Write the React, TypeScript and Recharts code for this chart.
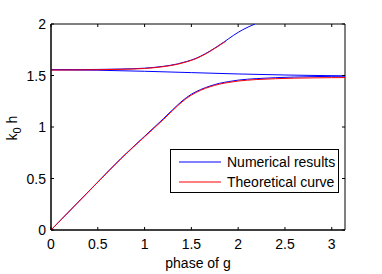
import { LineChart, Line, XAxis, YAxis, Legend, ReferenceArea } from "recharts";

// phase of g (x) and k0h (y)
const phaseUpper = [0, 0.25, 0.5, 0.75, 1.0, 1.2, 1.35, 1.45, 1.55, 1.65, 1.75, 1.85, 1.95, 2.05, 2.18];
const upperNumerical = [1.556, 1.557, 1.559, 1.563, 1.571, 1.589, 1.612, 1.636, 1.667, 1.712, 1.766, 1.826, 1.89, 1.945, 2.0];

const phaseUpperTheory = [0, 0.25, 0.5, 0.75, 1.0, 1.2, 1.35, 1.45, 1.55, 1.65, 1.75, 1.87];
const upperTheoretical = [1.553, 1.554, 1.556, 1.56, 1.568, 1.586, 1.609, 1.633, 1.664, 1.709, 1.763, 1.835];

const phaseMiddle = [0, 0.5, 1.0, 1.5, 2.0, 2.5, Math.PI];
const middleNumerical = [1.556, 1.551, 1.541, 1.528, 1.515, 1.505, 1.496];

const phaseLower = [0, 0.25, 0.5, 0.75, 1.0, 1.1, 1.2, 1.3, 1.4, 1.5, 1.6, 1.7, 1.8, 1.9, 2.0, 2.2, 2.4, 2.6, 2.8, 3.0, Math.PI];
const lowerNumerical = [0, 0.233, 0.466, 0.697, 0.91, 0.995, 1.08, 1.168, 1.252, 1.318, 1.364, 1.398, 1.424, 1.441, 1.455, 1.47, 1.479, 1.485, 1.489, 1.492, 1.494];
const lowerTheoretical = [0, 0.232, 0.464, 0.694, 0.905, 0.988, 1.072, 1.16, 1.244, 1.31, 1.357, 1.391, 1.416, 1.433, 1.446, 1.461, 1.469, 1.474, 1.477, 1.479, 1.48];

const xTicks = [0, 0.5, 1, 1.5, 2, 2.5, 3];
const yTicks = [0, 0.5, 1, 1.5, 2];

const legendItems = [
  { label: "Numerical results", color: "#0000ff" },
  { label: "Theoretical curve", color: "#ff0000" },
];

const zip = (xs: number[], ys: number[]) => xs.map((x, i) => ({ x, y: ys[i] }));

const FONT = "'Liberation Sans', Arial, sans-serif";
const TICK = 3;

const BottomTick = ({ x, y, payload }: any) => (
  <g>
    <line x1={x} x2={x} y1={y} y2={y - TICK} stroke="#000" />
    <text x={x} y={y + 19} textAnchor="middle" fontSize={14} fill="#000" fontFamily={FONT}>
      {payload.value}
    </text>
  </g>
);

const TopTick = ({ x, y }: any) => <line x1={x} x2={x} y1={y} y2={y + TICK} stroke="#000" />;

const LeftTick = ({ x, y, payload }: any) => (
  <g>
    <line x1={x} x2={x + TICK} y1={y} y2={y} stroke="#000" />
    <text x={x - 5} y={y + 5} textAnchor="end" fontSize={14} fill="#000" fontFamily={FONT}>
      {payload.value}
    </text>
  </g>
);

const RightTick = ({ x, y }: any) => <line x1={x} x2={x - TICK} y1={y} y2={y} stroke="#000" />;

const YLabel = ({ viewBox }: any) => {
  const cx = 17;
  const cy = viewBox.y + viewBox.height / 2 + 1;
  return (
    <text
      x={cx}
      y={cy}
      transform={`rotate(-90, ${cx}, ${cy})`}
      textAnchor="middle"
      fontSize={14}
      fill="#000"
      fontFamily={FONT}
    >
      k<tspan fontSize={11} dy={4}>0</tspan>
      <tspan dy={-4}> h</tspan>
    </text>
  );
};

const LegendBox = () => (
  <div
    style={{
      border: "1px solid #000",
      background: "#fff",
      width: 167,
      height: 42,
      fontFamily: FONT,
      fontSize: 14,
      boxSizing: "content-box",
    }}
  >
    {legendItems.map((item, i) => (
      <div key={item.label} style={{ display: "flex", alignItems: "center", height: 20, marginTop: i === 0 ? 2 : 0 }}>
        <svg width={52} height={20} style={{ flex: "none" }}>
          <line x1={8} x2={50} y1={10} y2={10} stroke={item.color} />
        </svg>
        <span style={{ marginLeft: 4, color: "#000", whiteSpace: "nowrap" }}>{item.label}</span>
      </div>
    ))}
  </div>
);

export default function App() {
  return (
    <div style={{ position: "absolute", left: 0, top: 0 }}>
      <LineChart
        width={382}
        height={274}
        margin={{ top: 23, right: 36, bottom: 0, left: 0 }}
        style={{ fontFamily: FONT, background: "#fff" }}
      >
        <XAxis
          dataKey="x"
          type="number"
          domain={[0, Math.PI]}
          ticks={xTicks}
          allowDataOverflow
          height={44}
          tickSize={0}
          tickMargin={0}
          tickLine={false}
          axisLine={{ stroke: "#000" }}
          tick={<BottomTick />}
          interval={0}
          label={{ value: "phase of g", position: "insideBottom", offset: 6, fontSize: 14, fill: "#000", fontFamily: FONT }}
        />
        <XAxis
          xAxisId="top"
          orientation="top"
          dataKey="x"
          type="number"
          domain={[0, Math.PI]}
          ticks={xTicks}
          allowDataOverflow
          height={1}
          tickSize={0}
          tickMargin={0}
          tickLine={false}
          axisLine={false}
          tick={<TopTick />}
          interval={0}
        />
        <YAxis
          type="number"
          domain={[0, 2]}
          ticks={yTicks}
          allowDataOverflow
          width={51}
          tickSize={0}
          tickMargin={0}
          tickLine={false}
          axisLine={{ stroke: "#000" }}
          tick={<LeftTick />}
          interval={0}
          label={<YLabel />}
        />
        <YAxis
          yAxisId="right"
          orientation="right"
          type="number"
          domain={[0, 2]}
          ticks={yTicks}
          allowDataOverflow
          width={1}
          tickSize={0}
          tickMargin={0}
          tickLine={false}
          axisLine={false}
          tick={<RightTick />}
          interval={0}
        />
        <ReferenceArea x1={0} x2={Math.PI} y1={0} y2={2} fill="none" stroke="#000" strokeWidth={1} ifOverflow="visible" />
        <Legend
          layout="horizontal"
          align="center"
          verticalAlign="middle"
          wrapperStyle={{ left: 170, top: 149, width: 169, height: 44 }}
          content={<LegendBox />}
        />
        <Line data={zip(phaseMiddle, middleNumerical)} dataKey="y" type="monotone" stroke="#0000ff" strokeWidth={1} dot={false} activeDot={false} isAnimationActive={false} />
        <Line data={zip(phaseUpper, upperNumerical)} dataKey="y" type="monotone" stroke="#0000ff" strokeWidth={1} dot={false} activeDot={false} isAnimationActive={false} />
        <Line data={zip(phaseLower, lowerNumerical)} dataKey="y" type="monotone" stroke="#0000ff" strokeWidth={1} dot={false} activeDot={false} isAnimationActive={false} />
        <Line data={zip(phaseUpperTheory, upperTheoretical)} dataKey="y" type="monotone" stroke="#ff0000" strokeWidth={1} dot={false} activeDot={false} isAnimationActive={false} />
        <Line data={zip(phaseLower, lowerTheoretical)} dataKey="y" type="monotone" stroke="#ff0000" strokeWidth={1} dot={false} activeDot={false} isAnimationActive={false} />
      </LineChart>
    </div>
  );
}
